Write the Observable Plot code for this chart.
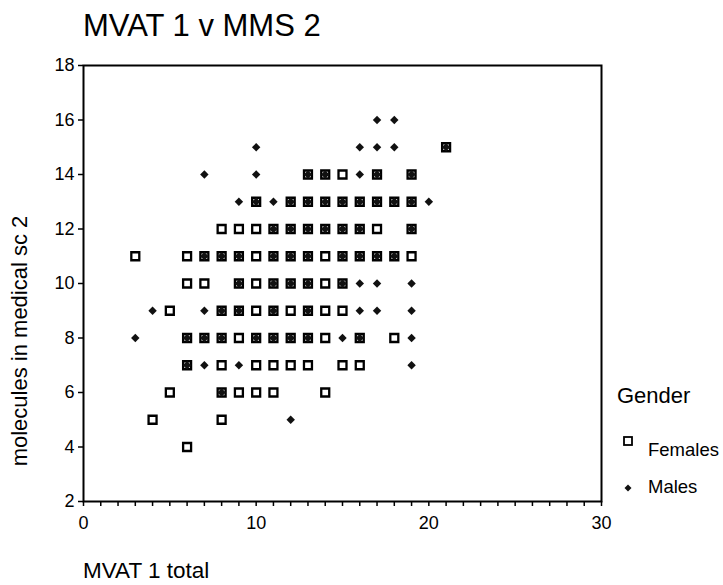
<!DOCTYPE html>
<html><head><meta charset="utf-8">
<script src="https://cdn.jsdelivr.net/npm/d3@7"></script>
<script src="https://cdn.jsdelivr.net/npm/@observablehq/plot@0.6"></script>
<style>
body{margin:0;background:#fff;}
#wrap{position:relative;width:723px;height:585px;font-family:Arial,"Liberation Sans",sans-serif;color:#000;overflow:hidden;}
#wrap svg{position:absolute;left:0;top:0;}
.t{position:absolute;white-space:nowrap;line-height:1;}
</style></head><body><div id="wrap"></div>
<script>
const title = "MVAT 1 v MMS 2";
const xTitle = "MVAT 1 total";
const yTitle = "molecules in medical sc 2";
const legendTitle = "Gender";
const genders = ["Females", "Males"];
const xTickLabels = [0, 10, 20, 30];
const yTickLabels = [2, 4, 6, 8, 10, 12, 14, 16, 18];

// rows of MMS 2 values (y) with the MVAT 1 totals (x) seen at that level
const rowY = [16, 15, 14, 13, 12, 11, 10, 9, 8, 7, 6, 5, 4];
const femaleX = [
  [],
  [21],
  [13, 14, 15, 17, 19],
  [10, 12, 13, 14, 15, 16, 17, 18, 19],
  [8, 9, 10, 11, 12, 13, 14, 15, 16, 17, 19],
  [3, 6, 7, 8, 9, 10, 11, 12, 13, 14, 15, 16, 17, 18, 19],
  [6, 7, 9, 10, 11, 12, 13, 14, 15],
  [5, 8, 9, 10, 11, 12, 13, 14, 15],
  [6, 7, 8, 9, 10, 11, 12, 13, 14, 16, 18],
  [6, 8, 10, 11, 12, 13, 15, 16],
  [5, 8, 9, 10, 11, 14],
  [4, 8],
  [6]
];
const maleX = [
  [17, 18],
  [10, 16, 17, 18, 21],
  [7, 10, 13, 14, 16, 17, 19],
  [9, 10, 11, 12, 13, 14, 15, 16, 17, 18, 19, 20],
  [11, 12, 13, 14, 15, 16, 19],
  [7, 8, 9, 11, 12, 13, 15, 16, 17, 18],
  [9, 11, 12, 13, 15, 16, 17, 19],
  [4, 7, 8, 9, 11, 13, 16, 17, 19],
  [3, 6, 7, 8, 10, 11, 12, 13, 15, 16, 19],
  [6, 7, 9, 19],
  [8],
  [12],
  []
];

const females = rowY.flatMap((y, i) => femaleX[i].map(x => ({x, y})));
const males = rowY.flatMap((y, i) => maleX[i].map(x => ({x, y})));

const font = "Arial, 'Liberation Sans', sans-serif";
const chart = Plot.plot({
  width: 723, height: 585,
  marginTop: 65, marginRight: 122, marginBottom: 84, marginLeft: 83,
  x: {domain: [0, 30]},
  y: {domain: [2, 18]},
  style: {fontFamily: font, fontSize: "18px", color: "#000", background: "white"},
  marks: [
    Plot.axisY({ticks: yTickLabels, tickSize: 5, tickPadding: 4, label: null, fontSize: 18, strokeWidth: 1.5}),
    Plot.axisX({ticks: d3.range(0, 31), tickSize: 5, tickPadding: 10, label: null, fontSize: 18, strokeWidth: 1.5,
      tickFormat: d => xTickLabels.includes(d) ? String(d) : ""}),
    Plot.frame({stroke: "#000", strokeWidth: 2}),
    Plot.dot(females, {x: "x", y: "y", symbol: "square", r: 4.5, stroke: "#000", strokeWidth: 2.3, fill: "white"}),
    Plot.dot(males, {x: "x", y: "y", symbol: "diamond2", r: 3.8, fill: "#111", stroke: "none"})
  ]
});
const wrap = document.getElementById("wrap");
wrap.appendChild(chart);

function addText(txt, css) {
  const d = document.createElement("div");
  d.className = "t";
  d.textContent = txt;
  Object.assign(d.style, css);
  wrap.appendChild(d);
  return d;
}
addText(title, {left: "83px", top: "10px", fontSize: "31px"});
addText(xTitle, {left: "83px", top: "560px", fontSize: "22.5px"});
addText(yTitle, {left: "20px", top: "341px", fontSize: "22px", transform: "translate(-50%,-50%) rotate(-90deg)"});
addText(legendTitle, {left: "617px", top: "385px", fontSize: "22px"});
addText(genders[0], {left: "648px", top: "441px", fontSize: "18.5px"});
addText(genders[1], {left: "648px", top: "478px", fontSize: "18.5px"});

const ns = "http://www.w3.org/2000/svg";
const lg = document.createElementNS(ns, "svg");
lg.setAttribute("width", 40); lg.setAttribute("height", 80);
lg.style.left = "610px"; lg.style.top = "420px";
lg.innerHTML = `<rect x="14" y="17" width="8" height="8" fill="white" stroke="#000" stroke-width="1.8"/>
<path d="M18,64.5 L21.5,68 L18,71.5 L14.5,68 Z" fill="#111"/>`;
wrap.appendChild(lg);
</script></body></html>
